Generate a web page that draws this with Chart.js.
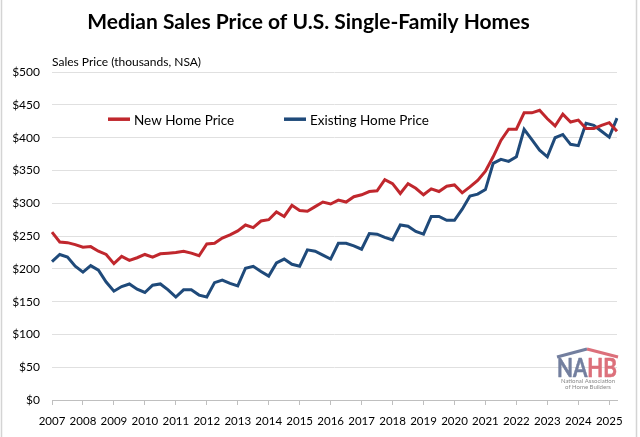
<!DOCTYPE html>
<html><head><meta charset="utf-8">
<script src="https://cdn.jsdelivr.net/npm/chart.js@4.4.1/dist/chart.umd.min.js"></script>
<style>html,body{margin:0;padding:0;background:#fff;}#wrap{width:640px;height:437px;position:relative;}</style>
</head><body><div id="wrap"><canvas id="c"></canvas></div>
<script>
const chartTitle = "Median Sales Price of U.S. Single-Family Homes";
const axisNote = "Sales Price (thousands, NSA)";
const years = [2007,2008,2009,2010,2011,2012,2013,2014,2015,2016,2017,2018,2019,2020,2021,2022,2023,2024,2025];
const quarterNames = ["Q1","Q2","Q3","Q4"];
const seriesNames = ["New Home Price", "Existing Home Price"];
const newHomePrice = [256,241,240,237,233,234,227,222,208,219,213,217,222,218,223,224,
  225,227,224,220,238,239,247,252,258,267,263,273,275,287,280,297,289,288,295,302,
  299,305,302,310,313,318,319,336,330,315,330,323,313,322,318,326,328,316,325,335,
  349,371,396,413,413,438,438,442,429,418,436,424,427,414,414,419,423,410];
const existingHomePrice = [211,222,218,204,195,205,198,180,166,173,177,169,164,175,177,168,
  157,168,168,160,157,179,183,178,174,201,204,196,189,209,215,207,204,229,227,221,
  215,239,239,235,230,254,253,248,244,267,265,257,253,280,280,274,274,291,311,314,
  321,361,367,364,371,413,397,381,371,400,405,390,388,422,419,410,401,430];
const yTickValues = [0,50,100,150,200,250,300,350,400,450,500];

const categories = [];
years.forEach(y => quarterNames.forEach(q => categories.push(y + " " + q)));
const labels = categories.slice(0, newHomePrice.length);

const RED = "#C0272D", BLUE = "#1F4A7A";
const FONT = "Lato, 'Open Sans', sans-serif";

const decor = {
  id: "decor",
  beforeDraw(chart) {
    const ctx = chart.ctx;
    ctx.save();
    ctx.strokeStyle = "#d4d4d4";
    ctx.lineWidth = 1.5;
    ctx.beginPath();
    ctx.moveTo(1.5, 0); ctx.lineTo(1.5, chart.height);
    ctx.moveTo(636.5, 0); ctx.lineTo(636.5, chart.height);
    ctx.stroke();
    ctx.restore();
  },
  afterDraw(chart) {
    const ctx = chart.ctx, a = chart.chartArea;
    ctx.save();
    // axis note
    ctx.fillStyle = "#000";
    ctx.font = "12px " + FONT;
    ctx.textAlign = "left"; ctx.textBaseline = "middle";
    ctx.fillText(axisNote, a.left, a.top - 10);
    // legend
    ctx.font = "13.5px " + FONT;
    const items = [{x: a.left + 56}, {x: a.left + 232}];
    chart.data.datasets.forEach((ds, i) => {
      const x = items[i].x, y = a.top + 47;
      ctx.strokeStyle = ds.borderColor; ctx.lineWidth = 3.5;
      ctx.beginPath(); ctx.moveTo(x, y); ctx.lineTo(x + 22, y); ctx.stroke();
      ctx.fillStyle = "#000";
      ctx.fillText(ds.label, x + 26, y + 1);
    });
    // NAHB mark
    const lx = a.right - 60, ly = a.bottom - 51;
    ctx.lineWidth = 3;
    ctx.strokeStyle = "#737f9f";
    ctx.beginPath(); ctx.moveTo(lx, ly + 8); ctx.lineTo(lx + 30, ly); ctx.stroke();
    ctx.strokeStyle = "#dc707b";
    ctx.beginPath(); ctx.moveTo(lx + 30, ly); ctx.lineTo(lx + 61, ly + 8); ctx.stroke();
    ctx.font = "bold 26px " + FONT;
    ctx.textBaseline = "alphabetic";
    ctx.lineJoin = "round";
    const wNA = ctx.measureText("NA").width, wHB = ctx.measureText("HB").width;
    const sc = 60 / (wNA + wHB);
    ctx.save();
    ctx.translate(lx, ly + 28);
    ctx.scale(sc, 1);
    ctx.lineWidth = 0.6;
    ctx.fillStyle = "#737f9f"; ctx.strokeStyle = "#737f9f";
    ctx.fillText("NA", 0, 0); ctx.strokeText("NA", 0, 0);
    ctx.fillStyle = "#dc707b"; ctx.strokeStyle = "#dc707b";
    ctx.fillText("HB", wNA, 0); ctx.strokeText("HB", wNA, 0);
    ctx.restore();
    ctx.fillStyle = "#8a8a8a";
    ctx.font = "6px " + FONT;
    ctx.textAlign = "center";
    ctx.fillText("National Association", lx + 31, ly + 34);
    ctx.fillText("of Home Builders", lx + 31, ly + 40);
    ctx.restore();
  }
};

new Chart(document.getElementById("c"), {
  type: "line",
  data: {
    labels: labels,
    datasets: [
      {label: seriesNames[0], data: newHomePrice, borderColor: RED, backgroundColor: RED, borderWidth: 3, pointRadius: 0, tension: 0},
      {label: seriesNames[1], data: existingHomePrice, borderColor: BLUE, backgroundColor: BLUE, borderWidth: 3, pointRadius: 0, tension: 0}
    ]
  },
  options: {
    responsive: true,
    maintainAspectRatio: false,
    animation: false,
    layout: {padding: {left: 0, right: 23, top: 0, bottom: 0}},
    plugins: {
      legend: {display: false},
      tooltip: {enabled: false},
      title: {
        display: true, text: chartTitle, color: "#000",
        font: {family: FONT, size: 21, weight: "bold"},
        padding: {top: 10, bottom: 37}
      }
    },
    scales: {
      x: {
        type: "category",
        offset: false,
        afterFit: s => { s.height = 37; },
        border: {display: true, color: "#bfbfbf", width: 1},
        grid: {
          drawOnChartArea: false, drawTicks: true, tickLength: 5,
          color: c => (c.index % 4 === 0 ? "#bfbfbf" : "rgba(0,0,0,0)")
        },
        ticks: {
          autoSkip: false, maxRotation: 0, minRotation: 0, padding: 9,
          color: "#000", font: {family: FONT, size: 11.5},
          callback: function(v, i) { return i % 4 === 0 ? this.getLabelForValue(v).split(" ")[0] : ""; }
        }
      },
      y: {
        min: 0, max: 500,
        afterBuildTicks: s => { s.ticks = yTickValues.map(v => ({value: v})); },
        afterFit: s => { s.width = 52; },
        border: {display: false},
        grid: {color: "#e0e0e0", drawTicks: false, lineWidth: 1},
        ticks: {
          padding: 12, color: "#000", font: {family: FONT, size: 12},
          callback: v => "$" + v
        }
      }
    }
  },
  plugins: [decor]
});
</script>
</body></html>
